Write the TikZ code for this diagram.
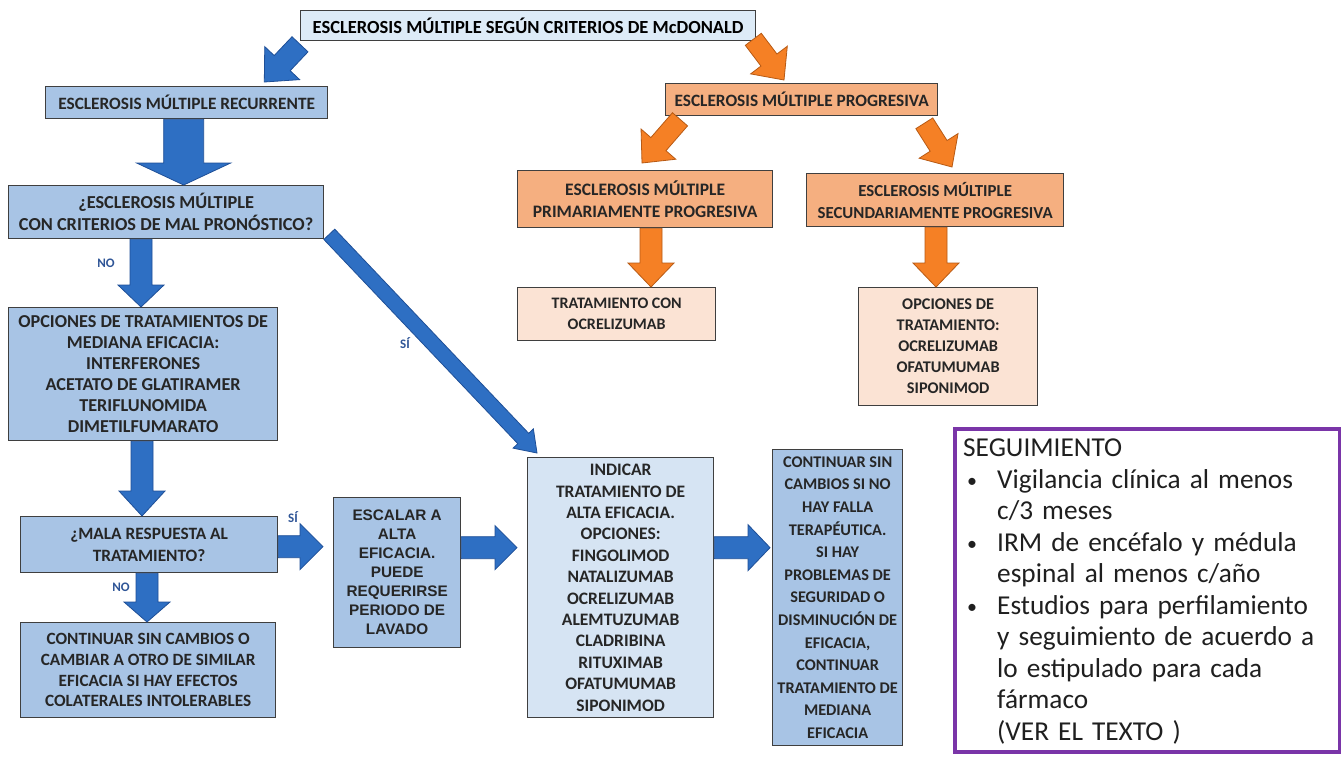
\documentclass[tikz,border=0pt]{standalone}
\usepackage{fontspec}
\setmainfont{Carlito}
\newfontfamily\arialf{Liberation Sans}
\usetikzlibrary{calc}
\definecolor{boxline}{HTML}{3F3F3F}
\definecolor{txt}{HTML}{262626}
\definecolor{titlefill}{HTML}{DDEBF7}
\definecolor{midblue}{HTML}{A8C4E5}
\definecolor{lightblue}{HTML}{D6E4F3}
\definecolor{orangefill}{HTML}{F5AF80}
\definecolor{peach}{HTML}{FBE3D4}
\definecolor{arrb}{HTML}{2E6FC3}
\definecolor{arrbd}{HTML}{1E4F97}
\definecolor{arro}{HTML}{F58025}
\definecolor{arrod}{HTML}{B85A14}
\definecolor{purp}{HTML}{7A35A8}
\definecolor{lblc}{HTML}{2F5597}
% block arrow: #1 style, #2 start, #3 end, #4 half shaft, #5 half head, #6 head length
\newcommand\blockarr[6]{%
  \coordinate (ba-s) at #2;
  \coordinate (ba-e) at #3;
  \coordinate (ba-h) at ($(ba-e)!#6!(ba-s)$);
  \filldraw[#1] ($(ba-s)!#4!90:(ba-e)$) -- ($(ba-h)!#4!90:(ba-e)$) -- ($(ba-h)!#5!90:(ba-e)$)
    -- (ba-e) -- ($(ba-h)!#5!-90:(ba-e)$) -- ($(ba-h)!#4!-90:(ba-e)$) -- ($(ba-s)!#4!-90:(ba-e)$) -- cycle;
}
\newcommand\bul{\hspace*{4pt}\makebox[30pt][l]{\raisebox{1pt}{\fontsize{20}{20}\selectfont •}}}
\begin{document}
\begin{tikzpicture}[x=1pt,y=-1pt,
  bx/.style={draw=boxline, line width=1.3pt, align=center, inner sep=0pt, anchor=north west,
    font=\fontsize{17.3}{21}\selectfont\bfseries, text=txt},
  sz/.style 2 args={minimum width=#1pt, minimum height=#2pt},
  lbl/.style={font=\fontsize{13}{13}\selectfont\bfseries, text=lblc},
  barr/.style={fill=arrb, draw=arrbd, line width=0.8pt, line join=miter},
  oarr/.style={fill=arro, draw=arrod, line width=0.8pt, line join=miter},
  segbox/.style={draw=purp, line width=4pt, fill=white, anchor=north west, inner sep=0pt},
  segtext/.style={anchor=north west, align=left, inner sep=0pt, text width=370pt,
    font=\fontsize{27.3}{31.5}\selectfont, text=black!88}]
\useasboundingbox (0,0) rectangle (1341,756);
\fill[white] (0,0) rectangle (1341,756);

% nodes
\node[bx, sz={455}{30}, fill=titlefill, text=black, font=\fontsize{18.5}{20}\selectfont\bfseries] (title) at (300,10) {ESCLEROSIS MÚLTIPLE SEGÚN CRITERIOS DE McDONALD};
\node[bx, sz={282}{32}, fill=midblue] (rec) at (45,86) {ESCLEROSIS MÚLTIPLE RECURRENTE};
\node[bx, sz={315}{53}, fill=midblue, font=\fontsize{18.3}{22}\selectfont\bfseries] (q1) at (8,185) {¿ESCLEROSIS MÚLTIPLE\\CON CRITERIOS DE MAL PRONÓSTICO?};
\node[bx, sz={269}{133}, fill=midblue, font=\fontsize{18.2}{21}\selectfont\bfseries] (med) at (8,307) {OPCIONES DE TRATAMIENTOS DE\\MEDIANA EFICACIA:\\INTERFERONES\\ACETATO DE GLATIRAMER\\TERIFLUNOMIDA\\DIMETILFUMARATO};
\node[bx, sz={257}{56}, fill=midblue, font=\fontsize{17.3}{22}\selectfont\bfseries] (mala) at (20,516) {¿MALA RESPUESTA AL\\TRATAMIENTO?};
\node[bx, sz={255}{95}, fill=midblue, font=\fontsize{17.2}{20.8}\selectfont\bfseries] (cont1) at (20,622) {CONTINUAR SIN CAMBIOS O\\CAMBIAR A OTRO DE SIMILAR\\EFICACIA SI HAY EFECTOS\\COLATERALES INTOLERABLES};
\node[bx, sz={127}{150}, fill=midblue, font=\arialf\bfseries\fontsize{15.3}{19}\selectfont] (esc) at (333,497) {ESCALAR A\\ALTA\\EFICACIA.\\PUEDE\\REQUERIRSE\\PERIODO DE\\LAVADO};
\node[bx, sz={186}{260}, fill=lightblue, font=\fontsize{17.5}{21.4}\selectfont\bfseries] (ind) at (527,457) {INDICAR\\TRATAMIENTO DE\\ALTA EFICACIA.\\OPCIONES:\\FINGOLIMOD\\NATALIZUMAB\\OCRELIZUMAB\\ALEMTUZUMAB\\CLADRIBINA\\RITUXIMAB\\OFATUMUMAB\\SIPONIMOD};
\node[bx, sz={130}{296}, fill=midblue, font=\fontsize{16.3}{22.6}\selectfont\bfseries] (cont2) at (772,449) {CONTINUAR SIN\\CAMBIOS SI NO\\HAY FALLA\\TERAPÉUTICA.\\SI HAY\\PROBLEMAS DE\\SEGURIDAD O\\DISMINUCIÓN DE\\EFICACIA,\\CONTINUAR\\TRATAMIENTO DE\\MEDIANA\\EFICACIA};
\node[bx, sz={272}{32}, fill=orangefill] (prog) at (665,83) {ESCLEROSIS MÚLTIPLE PROGRESIVA};
\node[bx, sz={255}{57}, fill=orangefill, font=\fontsize{17.5}{22}\selectfont\bfseries] (prim) at (517,170) {ESCLEROSIS MÚLTIPLE\\PRIMARIAMENTE PROGRESIVA};
\node[bx, sz={257}{53}, fill=orangefill, font=\fontsize{16.8}{22}\selectfont\bfseries] (sec) at (806,173) {ESCLEROSIS MÚLTIPLE\\SECUNDARIAMENTE PROGRESIVA};
\node[bx, sz={198}{53}, fill=peach, font=\fontsize{16}{21}\selectfont\bfseries] (ocre) at (517,287) {TRATAMIENTO CON\\OCRELIZUMAB};
\node[bx, sz={179}{118}, fill=peach, font=\fontsize{16.3}{21}\selectfont\bfseries] (opt) at (858,287) {OPCIONES DE\\TRATAMIENTO:\\OCRELIZUMAB\\OFATUMUMAB\\SIPONIMOD};
\node[segbox, minimum width=385pt, minimum height=323pt] (seg) at (953,427) {};
\node[segtext] (segt) at ($(seg.north west)+(10,12)$) {SEGUIMIENTO\\
\bul Vigilancia clínica al menos\\
\hspace*{34pt}c/3 meses\\
\bul IRM de encéfalo y médula\\
\hspace*{34pt}espinal al menos c/año\\
\bul Estudios para perfilamiento\\
\hspace*{34pt}y seguimiento de acuerdo a\\
\hspace*{34pt}lo estipulado para cada\\
\hspace*{34pt}fármaco\\
\hspace*{34pt}(VER EL TEXTO )};

% arrow anchor coordinates
\coordinate (a6s) at ($(med.south west)+(134,0)$);
\coordinate (a7s) at ($(mala.south west)+(127,0)$);
\coordinate (a8s) at ($(mala.east)+(0,2)$);
\coordinate (a9s) at ($(esc.east)+(0,-25)$);
\coordinate (a10s) at ($(ind.east)+(0,-40)$);
\coordinate (a13s) at ($(prim.south west)+(134,0)$);
\coordinate (a14s) at ($(sec.south west)+(130,0)$);

% arrows
\blockarr{barr}{($(title.south west)+(0,3)$)}{($(rec.north east)+(-64,-4)$)}{11pt}{24pt}{26pt}
\blockarr{oarr}{($(title.south east)+(-3,-2)$)}{($(prog.north west)+(119,-3)$)}{10pt}{23pt}{25pt}
\blockarr{barr}{($(rec.south)+(-3,0)$)}{($(rec.south |- q1.north)+(-3,0)$)}{20pt}{47pt}{22pt}
\blockarr{barr}{($(q1.south west)+(133,0)$)}{($(med.north west)+(133,0)$)}{11pt}{23pt}{22pt}
\blockarr{barr}{($(q1.south east)+(5,-5)$)}{($(ind.north west)+(10,-4)$)}{7.5pt}{14pt}{20pt}
\blockarr{barr}{(a6s)}{(a6s |- mala.north)}{11pt}{23pt}{25pt}
\blockarr{barr}{(a7s)}{(a7s |- cont1.north)}{11pt}{23pt}{20pt}
\blockarr{barr}{(a8s)}{($(a8s -| esc.west)+(-10,0)$)}{11pt}{23pt}{23pt}
\blockarr{barr}{(a9s)}{($(a9s -| ind.west)+(-10,0)$)}{11pt}{22pt}{22pt}
\blockarr{barr}{(a10s)}{($(a10s -| cont2.west)+(-2,0)$)}{11pt}{23pt}{22pt}
\blockarr{oarr}{($(prog.south west)+(15,3)$)}{($(prim.north west)+(125,-7)$)}{10pt}{23pt}{25pt}
\blockarr{oarr}{($(prog.south east)+(-14,7)$)}{($(sec.north west)+(146,-6)$)}{10pt}{23pt}{25pt}
\blockarr{oarr}{(a13s)}{(a13s |- ocre.north)}{11pt}{23pt}{24pt}
\blockarr{oarr}{(a14s)}{(a14s |- opt.north)}{11pt}{23pt}{24pt}

% labels
\node[lbl] (lno1) at (106,263) {NO};
\node[lbl] (lsi1) at (405,343) {SÍ};
\node[lbl] (lsi2) at (293,517) {SÍ};
\node[lbl] (lno2) at (121,587) {NO};
\end{tikzpicture}
\end{document}
